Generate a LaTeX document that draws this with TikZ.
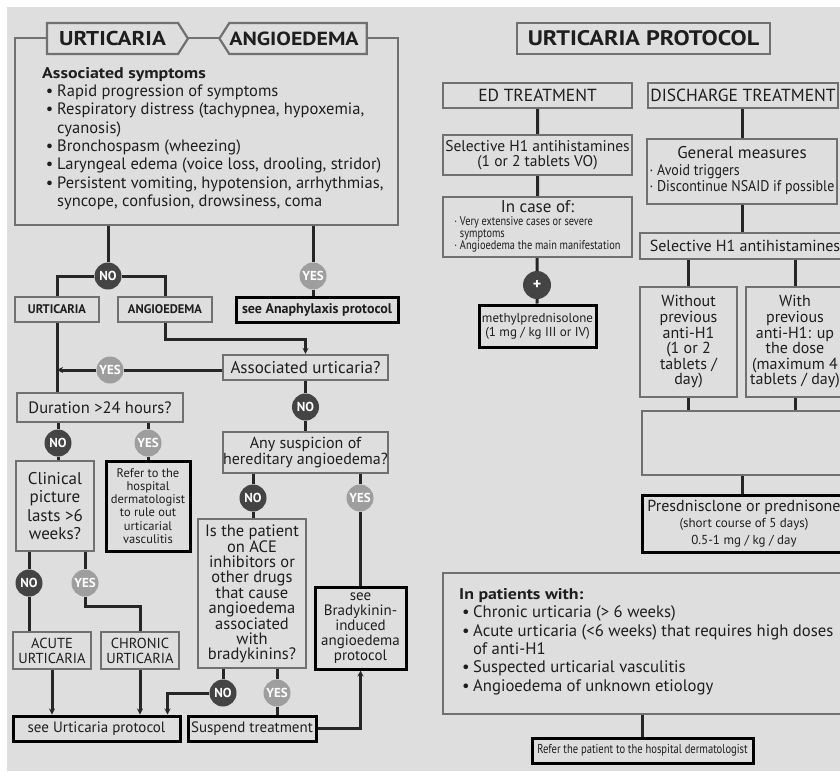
\documentclass[tikz,border=0pt]{standalone}
\usepackage{fontspec}
\setmainfont{PT Sans}
\newfontfamily\narrowfont{PT Sans}[FakeStretch=0.82]
\newfontfamily\semifont{PT Sans}[FakeStretch=0.9]
\newfontfamily\headfont{PT Sans}[FakeStretch=1.15]
\usetikzlibrary{arrows.meta,shapes.symbols}
\definecolor{panelgray}{RGB}{222,222,222}
\definecolor{framegray}{RGB}{112,112,112}
\definecolor{wiregray}{RGB}{38,38,38}
\definecolor{nogray}{RGB}{68,68,68}
\definecolor{yesgray}{RGB}{158,158,158}
\definecolor{inkgray}{RGB}{30,30,30}
\pgfdeclarelayer{panel}
\pgfdeclarelayer{wires}
\pgfsetlayers{panel,wires,main}
\newcommand{\fs}[2]{\fontsize{#1}{#2}\selectfont}
\newcommand{\bul}{\makebox[15pt][c]{\textbullet}}
\newcommand{\cont}{\hspace*{15pt}}
\newcommand{\mdot}{\textperiodcentered\ }

\begin{document}
\begin{tikzpicture}[x=1pt,y=-1pt,line cap=round,
	box/.style={draw=framegray,line width=2.2pt,fill=panelgray,inner sep=0pt,align=center,text=inkgray},
	boldbox/.style={box,draw=black,line width=3pt},
	banner/.style={signal,draw=framegray,line width=2.2pt,fill=panelgray,inner sep=0pt,text=inkgray,
		font=\headfont\bfseries\fs{20}{20},minimum height=31pt,signal pointer angle=115},
	nocirc/.style={circle,fill=nogray,minimum size=27pt,inner sep=0pt,text=white,font=\bfseries\fs{13}{13}},
	yescirc/.style={nocirc,fill=yesgray},
	wire/.style={draw=wiregray,line width=3pt},
	arr/.style={wire,-{Stealth[length=6pt,width=6pt]}}]
	\useasboundingbox (0,0) rectangle (840,771);
	\begin{pgfonlayer}{panel}
		\fill[white] (0,0) rectangle (840,771);
		\fill[panelgray] (7,7) rectangle (840,771);
	\end{pgfonlayer}
	%% left side: urticaria / angioedema
	\node[box,minimum width=383pt,minimum height=187pt] (symp) at (206.5,131.5) {};
	\node[banner,signal to=east,minimum width=141pt] (urtban) at (112.5,38.5) {URTICARIA};
	\node[banner,signal to=west,minimum width=146pt,font=\headfont\bfseries\fs{19}{19}] (angban) at (298,38.5) {ANGIOEDEMA\hspace*{8pt}};
	\node[anchor=north west,align=left,inner sep=0pt,text=inkgray,font=\fs{16.5}{18.3}] (symptxt) at (42,67) {%
		{\headfont\bfseries\fs{15.5}{18.3}Associated symptoms}\\
		\bul Rapid progression of symptoms\\
		\bul Respiratory distress (tachypnea, hypoxemia,\\
		\cont cyanosis)\\
		\bul Bronchospasm (wheezing)\\
		\bul Laryngeal edema (voice loss, drooling, stridor)\\
		\bul Persistent vomiting, hypotension, arrhythmias,\\
		\cont syncope, confusion, drowsiness, coma};
	\node[box,font=\bfseries\fs{12.5}{13},minimum width=84pt,minimum height=25pt] (urt) at (57,309.5) {URTICARIA};
	\node[box,font=\bfseries\fs{12.5}{13},minimum width=94pt,minimum height=25pt] (ang) at (165,309.5) {ANGIOEDEMA};
	\node[boldbox,font=\bfseries\fs{14}{14},minimum width=162pt,minimum height=25pt] (ana) at (317,309.5) {see Anaphylaxis protocol};
	\node[box,font=\fs{17}{17},minimum width=165pt,minimum height=25pt] (assoc) at (305.5,367.5) {Associated urticaria?};
	\node[box,font=\fs{16.5}{16.5},minimum width=166pt,minimum height=29pt] (dur) at (100,407.5) {Duration >24 hours?};
	\node[box,font=\fs{17}{18.3},minimum width=78pt,minimum height=90pt] (clin) at (55,506) {Clinical\\picture\\lasts >6\\weeks?};
	\node[boldbox,font=\fs{12.5}{13.2},minimum width=84pt,minimum height=90pt] (refl) at (148,506) {Refer to the\\hospital\\dermatologist\\to rule out\\urticarial\\vasculitis};
	\node[box,font=\fs{16}{16},minimum width=165pt,minimum height=41pt] (anys) at (305.5,452.5) {Any suspicion of\\hereditary angioedema?};
	\node[box,font=\fs{16.5}{15},minimum width=108pt,minimum height=149pt] (pat) at (252,593.5) {Is the patient\\on ACE\\inhibitors or\\other drugs\\that cause\\angioedema\\associated\\with\\bradykinins?};
	\node[box,font=\fs{14.5}{15},minimum width=78pt,minimum height=37pt] (acu) at (52,650.5) {ACUTE\\URTICARIA};
	\node[box,font=\fs{14.5}{15},minimum width=78pt,minimum height=37pt] (chr) at (140,650.5) {CHRONIC\\URTICARIA};
	\node[boldbox,font=\fs{15}{15},minimum width=167pt,minimum height=25pt] (seeu) at (96.5,728.5) {see Urticaria protocol};
	\node[boldbox,font=\fs{15}{15},minimum width=128pt,minimum height=25pt] (susp) at (252,728.5) {Suspend treatment};
	\node[boldbox,font=\fs{15}{15},minimum width=91pt,minimum height=82pt] (brad) at (360.5,628) {see\\Bradykinin-\\induced\\angioedema\\protocol};
	\node[nocirc] (no1) at (108,276) {NO};
	\node[yescirc] (yes1) at (313,276) {YES};
	\node[yescirc] (yes2) at (110,370) {YES};
	\node[nocirc] (no2) at (305.5,407) {NO};
	\node[nocirc] (no3) at (58,443) {NO};
	\node[yescirc] (yes3) at (148,443) {YES};
	\node[nocirc] (no4) at (253,498) {NO};
	\node[yescirc] (yes4) at (360,498) {YES};
	\node[nocirc] (no5) at (29,583) {NO};
	\node[yescirc] (yes5) at (85,583) {YES};
	\node[nocirc] (no6) at (223,693) {NO};
	\node[yescirc] (yes6) at (277,693) {YES};
	%% right side: urticaria protocol
	\node[box,font=\headfont\bfseries\fs{21}{21},minimum width=253pt,minimum height=31pt] (prot) at (643.5,38.5) {URTICARIA PROTOCOL};
	\node[box,font=\fs{17.5}{17.5},minimum width=189pt,minimum height=25pt] (edt) at (537.5,95.5) {ED TREATMENT};
	\node[box,font=\fs{17.5}{17.5},minimum width=190pt,minimum height=25pt] (dis) at (743,95.5) {DISCHARGE TREATMENT};
	\node[box,font=\fs{15.5}{15},minimum width=189pt,minimum height=40pt] (sel1) at (537.5,155) {Selective H1 antihistamines\\(1 or 2 tablets VO)};
	\node[box,font=\fs{13}{16.5},minimum width=190pt,minimum height=65pt] (genm) at (742,171.5) {%
		\begin{tabular}{@{}l@{}}\multicolumn{1}{@{}c@{}}{\fs{17}{17}General measures}\\
			\semifont\fs{15.5}{16}\mdot Avoid triggers\\
			\semifont\fs{15.5}{16}\mdot Discontinue NSAID if possible\end{tabular}};
	\node[box,font=\fs{12.6}{11.8},minimum width=189pt,minimum height=60pt] (incase) at (537.5,227) {%
		\begin{tabular}{@{}l@{}}\multicolumn{1}{@{}c@{}}{\fs{17}{17}In case of:}\\
			\narrowfont\mdot Very extensive cases or severe\\
			\narrowfont\phantom{\mdot}symptoms\\
			\narrowfont\mdot Angioedema the main manifestation\end{tabular}};
	\node[nocirc,minimum size=28pt,font=\bfseries\fs{16}{16}] (plus) at (537,285) {+};
	\node[boldbox,font=\fs{13}{14},minimum width=117pt,minimum height=42pt] (methyl) at (537.5,326) {methylprednisolone\\(1 mg / kg III or IV)};
	\node[box,font=\fs{16}{16},minimum width=210pt,minimum height=26pt] (selh) at (745,246) {Selective H1 antihistamines};
	\node[box,font=\fs{16}{15.6},minimum width=97pt,minimum height=110pt] (wo) at (688.5,342) {Without\\previous\\anti-H1\\(1 or 2\\tablets /\\day)};
	\node[box,font=\fs{16}{15.6},minimum width=98pt,minimum height=110pt] (wi) at (795,342) {With\\previous\\anti-H1: up\\the dose\\(maximum 4\\tablets / day)};
	\node[box,minimum width=208pt,minimum height=64pt] (emp) at (746,443) {};
	\node[boldbox,font=\fs{13}{16.5},minimum width=204pt,minimum height=57pt] (pres) at (744,523.5) {{\fs{16}{16}Presdnisclone or prednisone}\\(short course of 5 days)\\0.5-1 mg / kg / day};
	\node[box,minimum width=400pt,minimum height=141pt] (inpat) at (643,643.5) {};
	\node[anchor=north west,align=left,inner sep=0pt,text=inkgray,font=\fs{16.7}{18.4}] (inpattxt) at (459,588) {%
		{\headfont\bfseries\fs{15.5}{18.4}In patients with:}\\
		\hspace*{3pt}\makebox[11pt][l]{\textbullet}Chronic urticaria (> 6 weeks)\\
		\hspace*{3pt}\makebox[11pt][l]{\textbullet}Acute urticaria (<6 weeks) that requires high doses\\
		\hspace*{14pt}of anti-H1\\
		\hspace*{3pt}\makebox[11pt][l]{\textbullet}Suspected urticarial vasculitis\\
		\hspace*{3pt}\makebox[11pt][l]{\textbullet}Angioedema of unknown etiology};
	\node[boldbox,font=\narrowfont\fs{12.9}{13},minimum width=221pt,minimum height=25pt] (refr) at (642.5,750.5) {Refer the patient to the hospital dermatologist};
	%% connectors
	\begin{pgfonlayer}{wires}
		\draw[wire] (symp.south -| no1) -- (no1) -| (urt.north);
		\draw[wire] (no1) -| (ang.north);
		\draw[wire] (symp.south -| yes1) -- (yes1) -- (yes1 |- ana.north);
		\draw[arr] (ang.south) -- ++(0,16) -| (assoc.north);
		\draw[arr] (assoc.west |- yes2) -- (yes2) -- (yes2 -| urt.south);
		\draw[wire] (urt.south) -- (urt.south |- dur.north);
		\draw[wire] (dur.south -| no3) -- (no3) -- (no3 |- clin.north);
		\draw[wire] (dur.south -| yes3) -- (yes3) -- (yes3 |- refl.north);
		\draw[wire] (clin.south -| no5) -- (no5) -- (no5 |- acu.north);
		\draw[wire] (clin.south -| yes5) -- (yes5) -- ++(0,23) -| (chr.north);
		\draw[arr] (acu.south) -- (acu.south |- seeu.north);
		\draw[arr] (chr.south) -- (chr.south |- seeu.north);
		\draw[wire] (assoc.south) -- (no2) -- (anys.north);
		\draw[wire] (anys.south -| no4) -- (no4) -- (no4 |- pat.north);
		\draw[wire] (anys.south -| yes4) -- (yes4) -- (yes4 |- brad.north);
		\draw[arr] (pat.south -| no6) -- (no6) -| ([xshift=-14pt]seeu.north east);
		\draw[wire] (pat.south -| yes6) -- (yes6) -- (yes6 |- susp.north);
		\draw[arr] (susp.east) -| (brad.south);
		\draw[wire] (edt) -- (sel1) -- (incase) -- (plus) -- (methyl);
		\draw[wire] (dis.south -| genm) -- (genm) -- (genm |- selh.north);
		\draw[wire] (selh.south -| wo) -- (wo.north);
		\draw[wire] (selh.south -| wi) -- (wi.north);
		\draw[wire] (wo.south) -- (wo.south |- emp.north);
		\draw[wire] (wi.south) -- (wi.south |- emp.north);
		\draw[wire] (emp.south -| genm) -- (genm |- pres.north);
		\draw[wire] (inpat.south -| refr) -- (refr);
	\end{pgfonlayer}
\end{tikzpicture}
\end{document}
